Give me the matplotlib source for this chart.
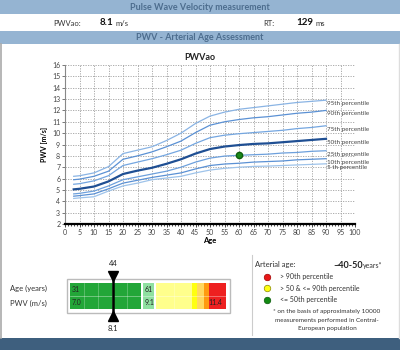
import matplotlib
matplotlib.use('Agg')
from matplotlib import pyplot as plt
from matplotlib.patches import Rectangle
from matplotlib.ticker import MultipleLocator
import numpy as np

plt.rcParams['font.family'] = ['Lato', 'DejaVu Sans']

# percentile curves, PWV in m/s over age
age = [3, 5, 10, 15, 20, 25, 30, 35, 40, 45, 50, 55, 60, 65, 70, 75, 80, 85, 90]
p95 = [6.2, 6.25, 6.5, 7.05, 8.2, 8.5, 8.8, 9.35, 10.0, 10.85, 11.5, 11.85, 12.1, 12.25, 12.4, 12.55, 12.7, 12.8, 12.9]
p90 = [5.9, 5.95, 6.2, 6.65, 7.7, 8.0, 8.35, 8.8, 9.3, 10.05, 10.7, 11.0, 11.2, 11.35, 11.45, 11.6, 11.75, 11.85, 12.0]
p75 = [5.5, 5.55, 5.8, 6.25, 7.15, 7.45, 7.75, 8.1, 8.5, 9.1, 9.6, 9.82, 9.95, 10.05, 10.15, 10.25, 10.4, 10.5, 10.65]
p50 = [5.05, 5.1, 5.3, 5.75, 6.4, 6.7, 6.95, 7.3, 7.7, 8.2, 8.6, 8.82, 8.95, 9.05, 9.1, 9.2, 9.3, 9.4, 9.5]
p25 = [4.65, 4.7, 4.9, 5.35, 5.9, 6.15, 6.4, 6.65, 7.0, 7.45, 7.8, 7.98, 8.05, 8.1, 8.15, 8.25, 8.3, 8.4, 8.45]
p10 = [4.45, 4.5, 4.65, 5.1, 5.6, 5.85, 6.1, 6.3, 6.5, 6.85, 7.15, 7.28, 7.35, 7.45, 7.5, 7.55, 7.65, 7.7, 7.75]
p5 = [4.25, 4.3, 4.4, 4.9, 5.35, 5.6, 5.9, 6.05, 6.2, 6.5, 6.75, 6.9, 7.0, 7.07, 7.1, 7.15, 7.2, 7.25, 7.3]
curves = [p95, p90, p75, p50, p25, p10, p5]
curve_names = ['95th percentile', '90th percentile', '75th percentile', '50th percentile',
               '25th percentile', '10th percentile', '5 th percentile']

# patient measurement
pat_age = 60
pat_pwv = 8.1
rt = 129
art_age = '~40-50'

# gauge bands on the PWV scale
gauge_left = [7.0, 9.1, 9.48, 10.52, 10.66, 10.87, 11.01]
gauge_right = [9.04, 9.42, 10.52, 10.66, 10.87, 11.01, 11.5]
gauge_cols = ['#22a638', '#8fe0a0', '#ffff8c', '#ffff10', '#ffd860', '#ff9a10', '#ee2020']
gauge_age = ['31', '61', '44']
gauge_pwv = ['7.0', '9.1', '11.4', '8.1']

W, H = 400, 350
fig = plt.figure(figsize=(W / 100, H / 100), dpi=100)

# background in pixel units
bg = fig.add_axes([0, 0, 1, 1])
bg.set_xlim(0, W)
bg.set_ylim(H, 0)
bg.axis('off')

hdr = '#95b4d2'
hdr_txt = '#4d6d8e'
bg.add_patch(Rectangle((0, 0), W, 13.5, fc=hdr, ec='none'))
bg.text(200, 7, 'Pulse Wave Velocity measurement', ha='center', va='center',
        fontsize=6.5, fontweight='bold', color=hdr_txt)
bg.text(53, 23, 'PWVao:', ha='left', va='center', fontsize=5.5, color='#333333')
bg.text(100, 22.5, '%.1f' % pat_pwv, ha='left', va='center', fontsize=7, fontweight='bold', color='#111111')
bg.text(116, 23, 'm/s', ha='left', va='center', fontsize=5.5, color='#333333')
bg.text(263, 23, 'RT:', ha='left', va='center', fontsize=5.5, color='#333333')
bg.text(296, 22.5, str(rt), ha='left', va='center', fontsize=7, fontweight='bold', color='#111111')
bg.text(315, 23, 'ms', ha='left', va='center', fontsize=5.5, color='#333333')
bg.add_patch(Rectangle((0, 30.5), W, 13, fc=hdr, ec='none'))
bg.text(200, 37, 'PWV - Arterial Age Assessment', ha='center', va='center',
        fontsize=6.5, fontweight='bold', color=hdr_txt)
bg.plot([1, 1], [44, 338], color='#aaaaaa', lw=1.2)
bg.plot([399, 399], [44, 338], color='#dddddd', lw=1)
bg.add_patch(Rectangle((0, 338), W, 12, fc='#3e5f7e', ec='none'))
bg.text(200, 57, 'PWVao', ha='center', va='center', fontsize=6.5, fontweight='bold', color='#222222')

# percentile chart
ax = fig.add_axes([65 / W, 1 - 224 / H, 290 / W, 159 / H])
ax.patch.set_alpha(0)
cols = ['#8ab4e4', '#5b91d4', '#74a6e0', '#1f4f93', '#6da0dc', '#5b91d4', '#9ec3ea']
for c, name, col in zip(curves, curve_names, cols):
    lw = 1.6 if name.startswith('50') else 0.9
    ax.plot(age, c, color=col, lw=lw, zorder=3)
    ax.annotate(name, (age[-1], c[-1]), xytext=(1, -2.5), textcoords='offset points',
                ha='left', va='center', fontsize=4.5, color='#444444', annotation_clip=False)
ax.plot(pat_age, pat_pwv, 'o', color='#1a8a1a', mec='#0d5e0d', ms=4.5, zorder=4)

ax.set_xlim(0, 100)
ax.set_ylim(2, 16)
ax.xaxis.set_major_locator(MultipleLocator(5))
ax.xaxis.set_minor_locator(MultipleLocator(1))
ax.yaxis.set_major_locator(MultipleLocator(1))
ax.tick_params(labelsize=5, colors='#444444', length=2, width=0.5, pad=1.5)
ax.tick_params(axis='x', which='minor', length=1.5, width=0.5, color='k')
ax.tick_params(axis='x', which='major', color='k')
ax.grid(which='major', ls=(0, (1.5, 1.5)), lw=0.6, color='#a0a0a0')
ax.set_axisbelow(True)
for s in ['top', 'right']:
    ax.spines[s].set_visible(False)
ax.spines['bottom'].set_linewidth(1.6)
ax.spines['left'].set_color('#888888')
ax.spines['left'].set_linewidth(0.8)
ax.set_xlabel('Age', fontsize=5.5, fontweight='bold', labelpad=1)
ax.set_ylabel('PWV [m/s]', fontsize=5, fontweight='bold', labelpad=3)

# gauge
bg.plot([252, 252], [255, 335], color='#cccccc', lw=0.8)
bg.text(10, 288, 'Age (years)', ha='left', va='center', fontsize=5.5, color='#333333')
bg.text(10, 303.5, 'PWV (m/s)', ha='left', va='center', fontsize=5.5, color='#333333')
bg.add_patch(Rectangle((66.5, 278.5), 163, 34.5, fc='white', ec='#bbbbbb', lw=1))

gx = fig.add_axes([70 / W, 1 - 309 / H, 156 / W, 26 / H])
gx.set_xlim(7.0, 11.5)
gx.set_ylim(0, 2)
gx.axis('off')
for l, r, col in zip(gauge_left, gauge_right, gauge_cols):
    gx.barh([0.5, 1.5], [r - l] * 2, left=l, height=1, color=col, ec='none')
    n = max(1, int(round((r - l) / 0.42)))
    for k in range(1, n):
        gx.plot([l + k * (r - l) / n] * 2, [0, 2], color='white', lw=0.5, alpha=0.35)
gx.plot([7.0, 11.5], [1, 1], color='white', lw=0.5, alpha=0.5)

gx.text(7.05, 1.5, gauge_age[0], ha='left', va='center', fontsize=5, color='#222222')
gx.text(7.05, 0.5, gauge_pwv[0], ha='left', va='center', fontsize=5, color='#222222')
gx.text(9.15, 1.5, gauge_age[1], ha='left', va='center', fontsize=5, color='#222222')
gx.text(9.15, 0.5, gauge_pwv[1], ha='left', va='center', fontsize=5, color='#222222')
gx.text(11.38, 0.5, gauge_pwv[2], ha='right', va='center', fontsize=5, color='#222222')

mx = pat_pwv + 0.15
gx.plot([mx, mx], [-0.35, 2.35], color='black', lw=1.8, clip_on=False)
gx.plot(mx, 2.55, marker='v', color='black', ms=7, clip_on=False)
gx.plot(mx, -0.55, marker='^', color='black', ms=7, clip_on=False)
gx.text(mx, 3.2, gauge_age[2], ha='center', va='bottom', fontsize=5.5, color='#222222')
gx.text(mx, -1.2, gauge_pwv[3], ha='center', va='top', fontsize=5.5, color='#222222')

# legend, arterial age
bg.text(255, 265, 'Arterial age:', ha='left', va='center', fontsize=5.5, color='#333333')
bg.text(363, 265, art_age, ha='right', va='center', fontsize=6.5, fontweight='bold', color='#222222')
bg.text(363, 265.5, 'years*', ha='left', va='center', fontsize=5, color='#333333')
leg_cols = ['#e81818', '#ffff10', '#128a12']
leg_edge = ['#a00000', '#888800', '#0a5a0a']
leg_txt = ['> 90th percentile', '> 50 & <= 90th percentile', '<= 50th percentile']
for i, (c, e, t) in enumerate(zip(leg_cols, leg_edge, leg_txt)):
    y = 276.5 + i * 11.7
    bg.scatter([266.5], [y], s=22, c=c, edgecolors=e, linewidths=0.5)
    bg.text(280, y, t, ha='left', va='center', fontsize=5, color='#333333')
foot = ['* on the basis of approximately 10000', 'measurements performed in Central-', 'European population']
for i, t in enumerate(foot):
    bg.text(327, 311.5 + i * 8.6, t, ha='center', va='center', fontsize=4.6, color='#333333')

fig.savefig('out.png', dpi=100)
